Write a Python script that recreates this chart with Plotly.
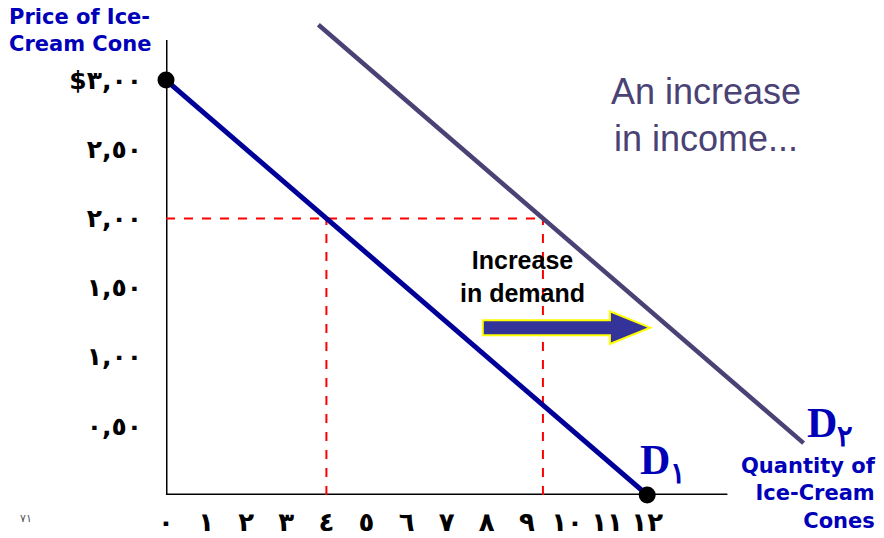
import plotly.graph_objects as go

# demand curves (quantity, price)
d1_q = [0, 12]
d1_p = [3.0, 0.0]
d2_q = [3.8, 15.9]
d2_p = [3.4, 0.375]

# the price level and quantities demanded at it
price_level = 2.0
qty_before = 4
qty_after = 9.4

# black end points of D1
dot_q = [0, 12]
dot_p = [3.0, 0.0]

x_ticks = list(range(13))
x_labels = ["٠", "١", "٢", "٣", "٤", "٥", "٦", "٧", "٨", "٩", "١٠", "١١", "١٢"]
y_ticks = [0.5, 1.0, 1.5, 2.0, 2.5, 3.0]
y_labels = ["٠,٥٠", "١,٠٠", "١,٥٠", "٢,٠٠", "٢,٥٠", "$٣,٠٠"]

W, H = 884, 538
L, R, T, B = 166, 0, 0, 43
PW, PH = W - L - R, H - T - B
X_MAX = PW / 40.1
Y_MAX = PH / 138.3

BLUE = "#0000b8"
D2_COL = "#4a4274"


def px(x):
    return (x - L) / PW


def py(y):
    return (H - B - y) / PH


fig = go.Figure()

# axes drawn as lines so they stop where the slide's axes stop
fig.add_trace(go.Scatter(x=[0, 14], y=[0, 0], mode="lines",
                         line=dict(color="black", width=3), hoverinfo="skip"))
fig.add_trace(go.Scatter(x=[0, 0], y=[0, 3.29], mode="lines",
                         line=dict(color="black", width=3), hoverinfo="skip"))

# dashed guides
fig.add_trace(go.Scatter(x=[0, qty_after], y=[price_level, price_level], mode="lines",
                         line=dict(color="#ff0000", width=2, dash="dash")))
fig.add_trace(go.Scatter(x=[qty_before, qty_before], y=[0, price_level], mode="lines",
                         line=dict(color="#ff0000", width=2, dash="dash")))
fig.add_trace(go.Scatter(x=[qty_after, qty_after], y=[0, price_level], mode="lines",
                         line=dict(color="#ff0000", width=2, dash="dash")))

fig.add_trace(go.Scatter(x=d1_q, y=d1_p, mode="lines",
                         line=dict(color="#000099", width=5)))
fig.add_trace(go.Scatter(x=d2_q, y=d2_p, mode="lines",
                         line=dict(color=D2_COL, width=4.5)))
fig.add_trace(go.Scatter(x=dot_q, y=dot_p, mode="markers", cliponaxis=False,
                         marker=dict(color="black", size=17)))

# fat shift arrow
ax0, ax1, ah = 7.9, 12.07, 11.07
ay, bh, hh = 1.21, 0.054, 0.118
arrow = (f"M {ax0} {ay - bh} L {ah} {ay - bh} L {ah} {ay - hh} L {ax1} {ay} "
         f"L {ah} {ay + hh} L {ah} {ay + bh} L {ax0} {ay + bh} Z")
fig.add_shape(type="path", path=arrow, xref="x", yref="y",
              fillcolor="#333399", line=dict(color="#ffff00", width=2))

ann = [
    dict(x=px(7), y=py(3), text="Price of Ice-<br>Cream Cone", xanchor="left", yanchor="top",
         align="left", font=dict(family="DejaVu Sans", size=21, color=BLUE, weight="bold")),
    dict(x=px(878), y=py(452), text="Quantity of<br>Ice-Cream<br>Cones", xanchor="right",
         yanchor="top", align="right",
         font=dict(family="DejaVu Sans", size=21, color=BLUE, weight="bold")),
    dict(x=px(706), y=py(115), text="An increase<br>in income...", xanchor="center",
         yanchor="middle", align="center",
         font=dict(family="Liberation Sans", size=36, color=D2_COL)),
    dict(x=px(522), y=py(276), text="Increase<br>in demand", xanchor="center",
         yanchor="middle", align="center",
         font=dict(family="Liberation Sans", size=25, color="black", weight="bold")),
    dict(x=px(638), y=py(463), text="D<sub>١</sub>", xanchor="left", yanchor="middle",
         font=dict(family="Liberation Serif", size=42, color=BLUE, weight="bold")),
    dict(x=px(805), y=py(426), text="D<sub>٢</sub>", xanchor="left", yanchor="middle",
         font=dict(family="Liberation Serif", size=42, color=BLUE, weight="bold")),
    dict(x=px(26), y=py(518), text="٧١", xanchor="center", yanchor="middle",
         font=dict(family="DejaVu Sans", size=11, color="#555555")),
]
for a in ann:
    a.update(xref="paper", yref="paper", showarrow=False)

fig.update_layout(
    width=W, height=H,
    margin=dict(l=L, r=R, t=T, b=B),
    plot_bgcolor="white", paper_bgcolor="white",
    showlegend=False,
    annotations=ann,
    xaxis=dict(range=[0, X_MAX], tickvals=x_ticks, ticktext=x_labels,
               showgrid=False, zeroline=False, showline=False, automargin=False,
               ticks="outside", ticklen=4, tickcolor="rgba(0,0,0,0)",
               tickfont=dict(family="DejaVu Sans", size=26, color="black", weight="bold")),
    yaxis=dict(range=[0, Y_MAX], tickvals=y_ticks, ticktext=y_labels,
               showgrid=False, zeroline=False, showline=False, automargin=False,
               ticks="outside", ticklen=18, tickcolor="rgba(0,0,0,0)",
               tickfont=dict(family="DejaVu Sans", size=25, color="black", weight="bold")),
)

fig.write_html("out.html", config={"displayModeBar": False},
               post_script="document.body.style.margin='0';")
